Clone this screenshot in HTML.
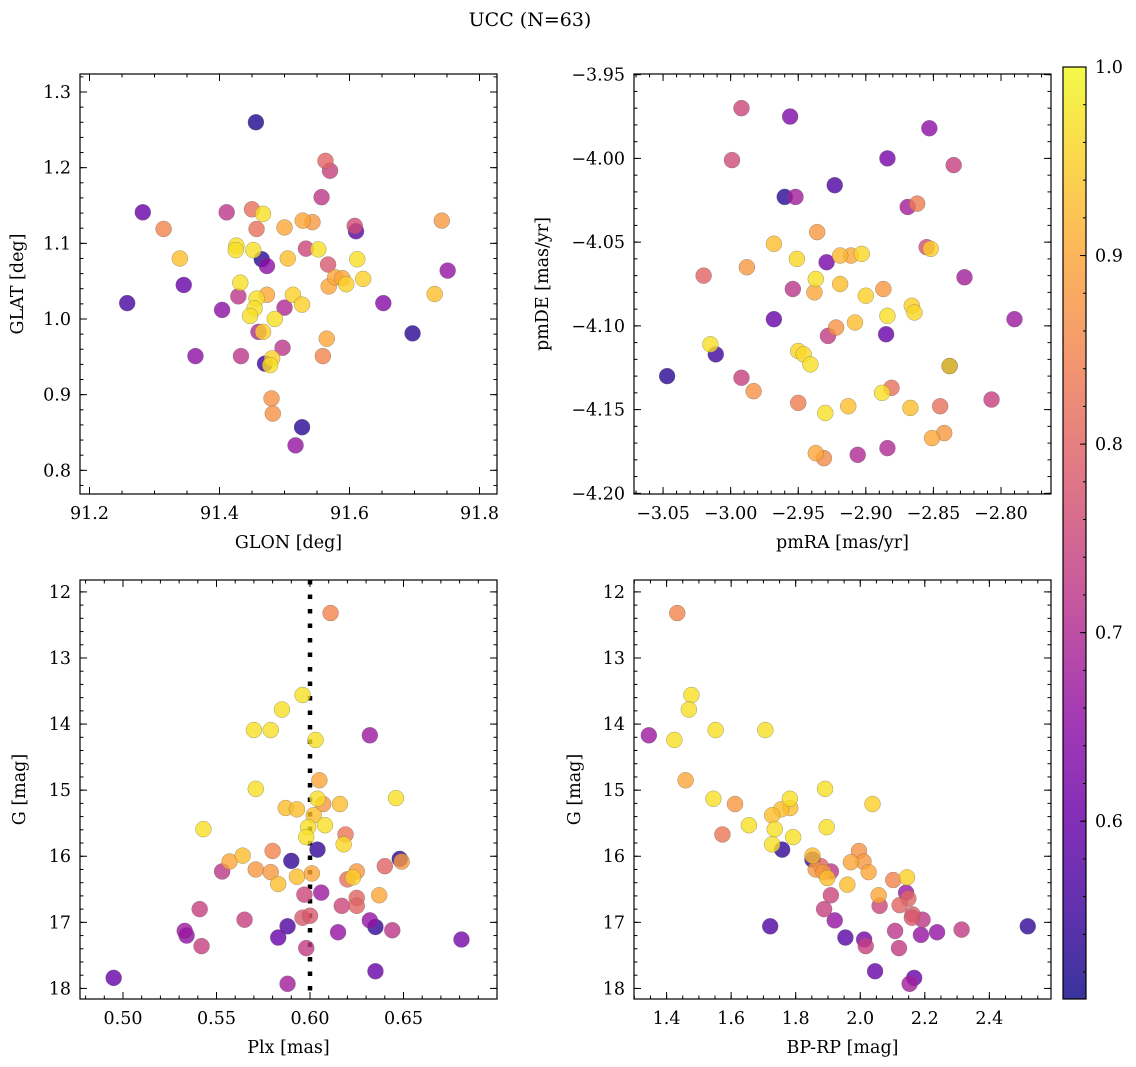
<!DOCTYPE html>
<html><head><meta charset="utf-8"><title>UCC (N=63)</title>
<style>
html,body{margin:0;padding:0;background:#fff;}
svg{display:block;font-family:"DejaVu Serif","Liberation Serif",serif;}
</style></head>
<body>
<svg id="fig" width="1136" height="1067" viewBox="0 0 1136 1067" xmlns="http://www.w3.org/2000/svg">
<rect width="1136" height="1067" fill="#fff"/>
<text x="530" y="26" font-size="19" text-anchor="middle">UCC (N=63)</text>
<g id="layer"></g>
</svg>
<script>
// ---- data ----
const glon = [91.456,91.282,91.314,91.339,91.345,91.258,91.363,91.411,91.404,91.429,91.433,91.426,91.425,91.432,91.450,91.467,91.457,91.452,91.465,91.473,91.457,91.454,91.447,91.473,91.460,91.467,91.485,91.470,91.478,91.481,91.480,91.482,91.500,91.505,91.500,91.497,91.528,91.543,91.533,91.513,91.527,91.527,91.517,91.563,91.570,91.557,91.552,91.567,91.568,91.578,91.589,91.595,91.565,91.559,91.608,91.610,91.612,91.621,91.652,91.697,91.731,91.742,91.751];
const glat = [1.260,1.141,1.119,1.080,1.045,1.021,0.951,1.141,1.012,1.030,0.951,1.097,1.091,1.048,1.145,1.139,1.119,1.091,1.079,1.070,1.027,1.014,1.004,1.032,0.983,0.983,1.000,0.941,0.939,0.948,0.895,0.875,1.121,1.080,1.015,0.962,1.130,1.128,1.093,1.032,1.019,0.857,0.833,1.209,1.196,1.161,1.092,1.072,1.043,1.055,1.054,1.046,0.974,0.951,1.123,1.116,1.079,1.053,1.021,0.981,1.033,1.130,1.064];
const prob1 = [0.52,0.60,0.85,0.93,0.60,0.56,0.65,0.72,0.65,0.72,0.72,0.97,0.97,0.97,0.82,0.97,0.82,0.97,0.53,0.65,0.97,0.97,0.97,0.90,0.70,0.95,0.97,0.55,0.97,0.95,0.87,0.87,0.90,0.93,0.70,0.72,0.90,0.88,0.75,0.95,0.95,0.53,0.66,0.80,0.74,0.72,0.97,0.78,0.90,0.90,0.90,0.95,0.90,0.85,0.76,0.58,0.97,0.95,0.64,0.53,0.93,0.88,0.66];

const pmra = [-2.992,-2.956,-2.853,-2.999,-2.884,-2.835,-2.923,-2.960,-2.952,-2.869,-2.862,-2.936,-2.968,-2.855,-2.852,-2.951,-2.929,-2.919,-2.911,-2.903,-2.988,-3.020,-2.827,-2.937,-2.954,-2.938,-2.919,-2.887,-2.900,-2.866,-2.864,-2.884,-2.968,-2.790,-2.908,-2.922,-2.928,-2.885,-3.015,-3.011,-2.950,-2.946,-2.941,-2.838,-2.838,-3.047,-2.992,-2.983,-2.881,-2.888,-2.950,-2.930,-2.913,-2.867,-2.845,-2.807,-2.842,-2.851,-2.884,-2.937,-2.931,-2.906];
const pmde = [-3.970,-3.975,-3.982,-4.001,-4.000,-4.004,-4.016,-4.023,-4.023,-4.029,-4.027,-4.044,-4.051,-4.053,-4.054,-4.060,-4.062,-4.058,-4.058,-4.057,-4.065,-4.070,-4.071,-4.072,-4.078,-4.080,-4.075,-4.078,-4.082,-4.088,-4.092,-4.094,-4.096,-4.096,-4.098,-4.101,-4.106,-4.105,-4.111,-4.117,-4.115,-4.117,-4.123,-4.124,-4.124,-4.130,-4.131,-4.139,-4.137,-4.140,-4.146,-4.152,-4.148,-4.149,-4.148,-4.144,-4.164,-4.167,-4.173,-4.176,-4.179,-4.177];
const prob2 = [0.75,0.63,0.65,0.76,0.62,0.74,0.57,0.53,0.68,0.68,0.84,0.88,0.93,0.76,0.95,0.96,0.62,0.92,0.90,0.96,0.88,0.80,0.68,0.97,0.72,0.90,0.93,0.88,0.95,0.95,0.96,0.97,0.60,0.67,0.93,0.87,0.73,0.60,0.97,0.55,0.96,0.96,0.97,0.53,0.96,0.53,0.74,0.87,0.82,0.97,0.84,0.97,0.93,0.93,0.82,0.74,0.88,0.90,0.70,0.90,0.86,0.70];

const plx = [0.611,0.596,0.585,0.570,0.579,0.632,0.603,0.605,0.571,0.604,0.646,0.607,0.616,0.587,0.593,0.602,0.608,0.599,0.543,0.598,0.619,0.618,0.604,0.580,0.564,0.590,0.557,0.648,0.649,0.640,0.553,0.571,0.579,0.601,0.593,0.583,0.625,0.620,0.623,0.637,0.597,0.606,0.625,0.625,0.617,0.541,0.565,0.596,0.600,0.632,0.635,0.644,0.588,0.533,0.534,0.615,0.583,0.681,0.542,0.598,0.635,0.495,0.588];
const gmag3 = [12.32,13.56,13.78,14.09,14.09,14.17,14.24,14.85,14.98,15.13,15.12,15.21,15.21,15.27,15.29,15.38,15.53,15.56,15.59,15.71,15.67,15.82,15.90,15.92,15.99,16.07,16.08,16.04,16.08,16.15,16.23,16.20,16.24,16.26,16.31,16.42,16.23,16.35,16.32,16.59,16.58,16.55,16.63,16.75,16.75,16.80,16.96,16.93,16.90,16.97,17.07,17.12,17.06,17.13,17.20,17.15,17.23,17.26,17.36,17.39,17.74,17.84,17.93];
const prob3 = [0.85,0.97,0.97,0.97,0.97,0.67,0.97,0.90,0.97,0.97,0.97,0.88,0.93,0.93,0.93,0.93,0.97,0.97,0.97,0.97,0.83,0.96,0.54,0.85,0.93,0.54,0.90,0.53,0.88,0.80,0.72,0.88,0.88,0.90,0.93,0.93,0.88,0.82,0.95,0.90,0.75,0.67,0.80,0.80,0.75,0.74,0.74,0.78,0.78,0.66,0.54,0.72,0.57,0.67,0.65,0.66,0.60,0.62,0.74,0.73,0.60,0.60,0.68];

const bprp = [1.433,1.477,1.469,1.552,1.706,1.345,1.424,1.459,1.891,1.545,2.038,1.612,1.782,1.783,1.755,1.727,1.655,1.735,1.896,1.573,1.792,1.727,1.758,1.852,1.852,1.996,1.971,2.010,1.878,1.909,1.862,1.886,2.026,1.898,1.960,2.102,2.145,2.057,1.909,2.142,2.149,2.122,2.060,1.888,2.162,2.160,1.921,2.193,1.721,2.519,2.108,2.314,2.188,2.238,1.954,2.012,2.017,2.120,2.046,2.167,2.153];
const gmag4 = [12.32,13.56,13.78,14.09,14.09,14.17,14.24,14.85,14.98,15.13,15.21,15.21,15.13,15.27,15.29,15.38,15.53,15.59,15.56,15.67,15.71,15.82,15.90,15.99,16.05,15.92,16.09,16.08,16.15,16.23,16.20,16.24,16.24,16.33,16.43,16.36,16.32,16.59,16.59,16.55,16.64,16.74,16.75,16.80,16.88,16.93,16.97,16.96,17.06,17.06,17.13,17.11,17.19,17.15,17.23,17.26,17.36,17.39,17.74,17.84,17.93];
const prob4 = [0.85,0.97,0.97,0.97,0.97,0.67,0.97,0.90,0.97,0.97,0.95,0.88,0.97,0.93,0.93,0.93,0.97,0.97,0.97,0.83,0.97,0.97,0.54,0.93,0.54,0.87,0.90,0.88,0.80,0.72,0.88,0.88,0.90,0.93,0.93,0.85,0.95,0.90,0.75,0.67,0.80,0.80,0.75,0.74,0.78,0.78,0.66,0.72,0.57,0.54,0.72,0.73,0.66,0.66,0.58,0.62,0.74,0.73,0.60,0.60,0.68];

const plxRef = [0.60];
const cbarTicks = [0.6,0.7,0.8,0.9,1.0];

// ---- rendering ----
const NS = "http://www.w3.org/2000/svg";
const layer = document.getElementById('layer');
function mk(tag, attrs, parent){
  const e = document.createElementNS(NS, tag);
  for (const k in attrs) e.setAttribute(k, attrs[k]);
  (parent||layer).appendChild(e);
  return e;
}
const VMIN = 0.5057, VMAX = 1.0;
const plasma = ["#0d0887","#41049d","#6a00a8","#8f0da4","#b12a90","#cc4778","#e16462","#f2844b","#fca636","#fcce25","#f0f921"];
function hex(c){return [parseInt(c.slice(1,3),16),parseInt(c.slice(3,5),16),parseInt(c.slice(5,7),16)];}
function cmap(t){
  t = Math.max(0, Math.min(1, t));
  const f = t*10, i = Math.min(9, Math.floor(f)), u = f - i;
  const a = hex(plasma[i]), b = hex(plasma[i+1]);
  return "rgb(" + a.map((v,k)=>Math.round(v+(b[k]-v)*u)).join(",") + ")";
}
function colorOf(p){ return cmap((p-VMIN)/(VMAX-VMIN)); }
function fmt(v, d){ const s = v.toFixed(d); return s.startsWith('-') ? '\u2212'+s.slice(1) : s; }

function axes(cfg){
  const g = mk('g', {});
  
  
  const sx = v => cfg.x0 + (v-cfg.xd[0])/(cfg.xd[1]-cfg.xd[0])*(cfg.x1-cfg.x0);
  const sy = v => cfg.y0 + (v-cfg.yd[0])/(cfg.yd[1]-cfg.yd[0])*(cfg.y1-cfg.y0);
  const tg = mk('g', {stroke:'#000','stroke-width':1}, g);
  
  
  const xlo = Math.min(...cfg.xd), xhi = Math.max(...cfg.xd);
  const ylo = Math.min(...cfg.yd), yhi = Math.max(...cfg.yd);
  for (let v = Math.ceil(xlo/cfg.xmin-1e-6)*cfg.xmin; v <= xhi; v += cfg.xmin){
    const x = sx(v);
    mk('line',{x1:x,x2:x,y1:cfg.y1,y2:cfg.y1-3.5},tg); mk('line',{x1:x,x2:x,y1:cfg.y0,y2:cfg.y0+3.5},tg);
  }
  for (let v = Math.ceil(ylo/cfg.ymin-1e-6)*cfg.ymin; v <= yhi; v += cfg.ymin){
    const y = sy(v);
    mk('line',{x1:cfg.x0,x2:cfg.x0+3.5,y1:y,y2:y},tg); mk('line',{x1:cfg.x1,x2:cfg.x1-3.5,y1:y,y2:y},tg);
  }
  cfg.xt.forEach(v=>{
    const x = sx(v);
    mk('line',{x1:x,x2:x,y1:cfg.y1,y2:cfg.y1-7},tg); mk('line',{x1:x,x2:x,y1:cfg.y0,y2:cfg.y0+7},tg);
    const t = mk('text',{x:x,y:cfg.y1+25,'font-size':17.5,'text-anchor':'middle'},g);
    t.textContent = fmt(v,cfg.xdec);
    
    
  });
  cfg.yt.forEach(v=>{
    const y = sy(v);
    mk('line',{x1:cfg.x0,x2:cfg.x0+7,y1:y,y2:y},tg); mk('line',{x1:cfg.x1,x2:cfg.x1-7,y1:y,y2:y},tg);
    const t = mk('text',{x:cfg.x0-9,y:y+6,'font-size':17.5,'text-anchor':'end'},g);
    t.textContent = fmt(v,cfg.ydec);
    
    
  });
  const fr = mk('rect',{x:cfg.x0,y:cfg.y0,width:cfg.x1-cfg.x0,height:cfg.y1-cfg.y0,fill:'none',stroke:'#000','stroke-width':1.2},g);
  
  
  const xl = mk('text',{x:(cfg.x0+cfg.x1)/2,y:cfg.y1+54,'font-size':17.5,'text-anchor':'middle'},g);
  xl.textContent = cfg.xlabel;
  
  
  const yx = cfg.ylx, yc = (cfg.y0+cfg.y1)/2;
  const yl = mk('text',{x:yx,y:yc,'font-size':17.5,'text-anchor':'middle',transform:'rotate(-90 '+yx+' '+yc+')'},g);
  yl.textContent = cfg.ylabel;
  
  
  return {g, sx, sy, cfg};
}

function scatter(ax, xs, ys, ps, name){
  const cp = mk('clipPath',{id:'clip-'+name},ax.g);
  mk('rect',{x:ax.cfg.x0,y:ax.cfg.y0,width:ax.cfg.x1-ax.cfg.x0,height:ax.cfg.y1-ax.cfg.y0},cp);
  const sg = mk('g',{'clip-path':'url(#clip-'+name+')'},ax.g);
  
  
  const idx = xs.map((_,i)=>i).sort((a,b)=>ps[a]-ps[b]);
  idx.forEach(i=>{
    const c = mk('circle',{cx:ax.sx(xs[i]),cy:ax.sy(ys[i]),r:8,fill:colorOf(ps[i]),'fill-opacity':0.8,stroke:'#666','stroke-opacity':0.6,'stroke-width':0.5},sg);
    
    
  });
  return sg;
}

const ax1 = axes({name:'glon-glat-panel',x0:80,x1:497,y0:74,y1:494,xd:[91.1854,91.8269],yd:[1.3238,0.7687],
  xt:[91.2,91.4,91.6,91.8],xmin:0.05,yt:[0.8,0.9,1.0,1.1,1.2,1.3],ymin:0.02,xdec:1,ydec:1,xlabel:'GLON [deg]',ylabel:'GLAT [deg]',ylx:23});
scatter(ax1, glon, glat, prob1, 'glon-glat');

const ax2 = axes({name:'proper-motion-panel',x0:634,x1:1051,y0:74,y1:494,xd:[-3.0715,-2.763],yd:[-3.9496,-4.2004],
  xt:[-3.05,-3.0,-2.95,-2.9,-2.85,-2.8],xmin:0.01,yt:[-3.95,-4.0,-4.05,-4.1,-4.15,-4.2],ymin:0.01,xdec:2,ydec:2,xlabel:'pmRA [mas/yr]',ylabel:'pmDE [mas/yr]',ylx:548});
scatter(ax2, pmra, pmde, prob2, 'pmra-pmde');

const ax3 = axes({name:'plx-g-panel',x0:80,x1:497,y0:580,y1:999,xd:[0.477,0.700],yd:[11.82,18.16],
  xt:[0.50,0.55,0.60,0.65],xmin:0.01,yt:[12,13,14,15,16,17,18],ymin:0.2,xdec:2,ydec:0,xlabel:'Plx [mas]',ylabel:'G [mag]',ylx:25});
plxRef.forEach(v=>{
  const l = mk('line',{x1:ax3.sx(v),x2:ax3.sx(v),y1:580,y2:999,stroke:'#000','stroke-width':4.5,'stroke-dasharray':'4.5 10'},ax3.g);
  
  
});
scatter(ax3, plx, gmag3, prob3, 'plx-g');

const ax4 = axes({name:'cmd-panel',x0:634,x1:1051,y0:580,y1:999,xd:[1.299,2.591],yd:[11.82,18.16],
  xt:[1.4,1.6,1.8,2.0,2.2,2.4],xmin:0.05,yt:[12,13,14,15,16,17,18],ymin:0.2,xdec:1,ydec:0,xlabel:'BP-RP [mag]',ylabel:'G [mag]',ylx:580});
scatter(ax4, bprp, gmag4, prob4, 'bprp-g');

// colorbar
(function(){
  const cx0 = 1063, cx1 = 1086, cy0 = 67, cy1 = 999;
  const cb = mk('g',{});
  
  
  const defs = mk('defs',{},cb);
  const lg = mk('linearGradient',{id:'cbgrad',x1:0,y1:1,x2:0,y2:0},defs);
  for (let k=0;k<=20;k++){ mk('stop',{offset:(k/20),'stop-color':cmap(k/20)},lg); }
  mk('rect',{x:cx0,y:cy0,width:cx1-cx0,height:cy1-cy0,fill:'url(#cbgrad)','fill-opacity':0.82},cb);
  mk('rect',{x:cx0,y:cy0,width:cx1-cx0,height:cy1-cy0,fill:'none',stroke:'#000','stroke-width':1.2},cb);
  const sy = v => cy1 - (v-VMIN)/(VMAX-VMIN)*(cy1-cy0);
  for (let v = 0.52; v <= 1.0001; v += 0.02){
    const y = sy(v); mk('line',{x1:cx1,x2:cx1-3,y1:y,y2:y,stroke:'#000','stroke-width':1},cb);
  }
  cbarTicks.forEach(v=>{
    const y = sy(v);
    mk('line',{x1:cx1,x2:cx1-6,y1:y,y2:y,stroke:'#000','stroke-width':1},cb);
    const t = mk('text',{x:cx1+9,y:y+6,'font-size':17.5},cb);
    t.textContent = v.toFixed(1);
    
    
  });
})();
</script>
</body></html>
